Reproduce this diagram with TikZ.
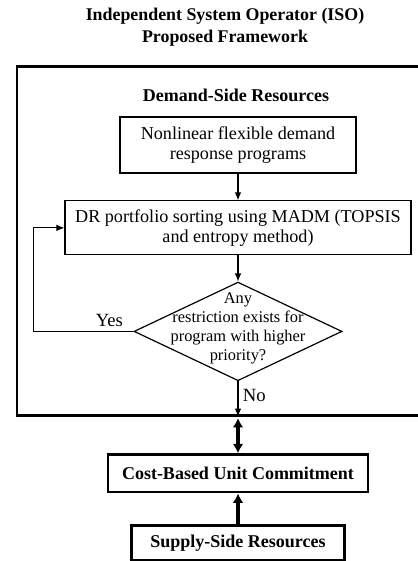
\documentclass[tikz,border=0pt]{standalone}
\usepackage{fontspec}
\setmainfont{Liberation Serif}
\usetikzlibrary{positioning,shapes.geometric,arrows.meta}
\tikzset{>={Latex[length=6pt,width=5pt]},auto,
  txt/.style={align=center,font=\fontsize{13.6}{15}\selectfont},
  heading/.style={txt,font=\fontsize{13.4}{16.5}\selectfont\bfseries},
  block/.style={txt,draw,line width=0.9pt,inner sep=2pt},
  strongblock/.style={txt,draw,line width=2.2pt,font=\fontsize{13.5}{15}\selectfont\bfseries},
  decision/.style={diamond,draw,line width=0.9pt,minimum width=156pt,minimum height=74pt,inner sep=0pt},
  isoframe/.style={draw,line width=2.2pt,inner sep=0pt},
  flow/.style={->,line width=0.8pt,every node/.style={txt,font=\fontsize{14}{15}\selectfont}},
  strongflow/.style={line width=2.6pt,>={Latex[length=7pt,width=8pt]}}}

\begin{document}
\begin{tikzpicture}
\useasboundingbox (0,0) rectangle (313.5pt,-420.75pt);

\node[heading] (iso) at (168.75pt,-20.25pt) {Independent System Operator (ISO)\\Proposed Framework};
\node[isoframe,minimum width=312pt,minimum height=261.75pt] (dsrframe) at (168.75pt,-180.4pt) {};
\node[heading,font=\fontsize{13.5}{15}\selectfont\bfseries] (dsr) at (177pt,-71.25pt) {Demand-Side Resources};

\node[block,minimum width=177pt,minimum height=42pt] (nfd) at (178.5pt,-108.75pt)
  {Nonlinear flexible demand\\response programs};
\node[block,minimum width=259.5pt,minimum height=40.5pt] (sort) [below=20pt of nfd]
  {DR portfolio sorting using MADM (TOPSIS\\and entropy method)};
\node[decision] (restr) [below=19.5pt of sort]
  {}; 
\node[txt,font=\fontsize{12.3}{14.2}\selectfont] (restrtxt) at ([yshift=2pt]restr.center)
  {Any\\restriction exists for\\program with higher\\priority?};

\node[strongblock,minimum width=195pt,minimum height=28pt] (ucm) at (178.5pt,-355pt)
  {Cost-Based Unit Commitment};
\node[strongblock,minimum width=160pt,minimum height=26pt] (ssr) [below=23pt of ucm]
  {Supply-Side Resources};

\coordinate (yesturn) at ([xshift=-75pt]restr.west);
\coordinate (noend) at (restr.south |- dsrframe.south);

\path
(nfd) edge[flow] (sort)
(sort) edge[flow] (restr)
(restr) edge[flow] node[pos=0.4] {No} (noend)
;
\draw[flow] (restr.west) -- node[swap,pos=0.24] {Yes} (yesturn) |- (sort.west);
\draw[strongflow,<->] ([yshift=-1.2pt]noend) -- (ucm.north -| noend);
\draw[strongflow,->] (ssr.north -| noend) -- (ucm.south -| noend);
\end{tikzpicture}
\end{document}
